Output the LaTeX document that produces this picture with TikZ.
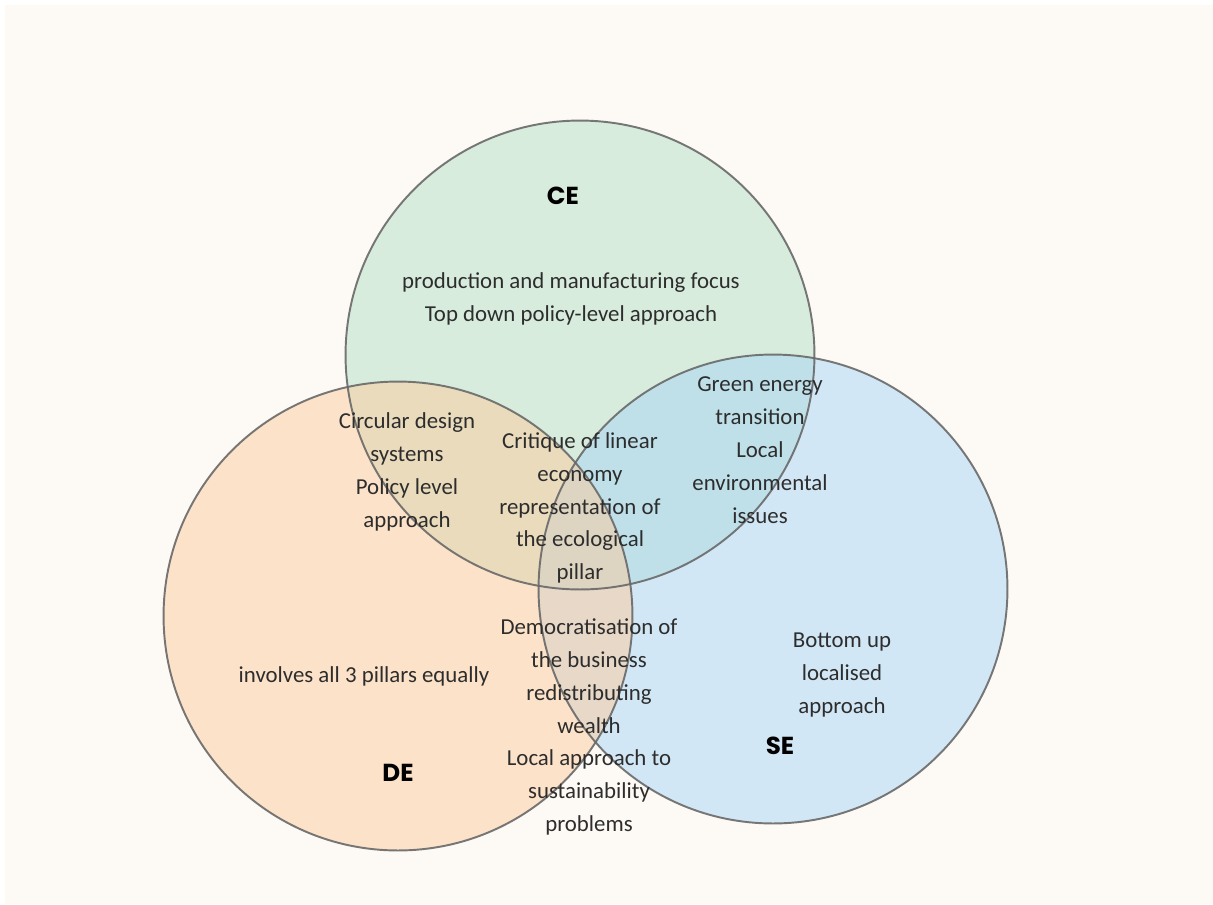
\documentclass[tikz,border=0pt]{standalone}
\usepackage{fontspec}
\setmainfont{Carlito}
\newfontfamily\labelfont{Poppins}

\definecolor{paper}{RGB}{253,250,245}
\definecolor{cefill}{RGB}{178,224,198}
\definecolor{sefill}{RGB}{168,214,246}
\definecolor{defill}{RGB}{252,203,156}
\definecolor{rimgray}{RGB}{105,105,105}
\definecolor{textgray}{RGB}{45,45,45}

\begin{document}
\begin{tikzpicture}[x=0.02cm, y=-0.02cm]
  \tikzstyle{venn} = [circle, minimum size=9.38cm, inner sep=0pt, outer sep=0pt,
    fill opacity=0.5]
  \tikzstyle{rim} = [draw=rimgray, line width=1.1pt, draw opacity=0.9]
  \tikzstyle{setname} = [font=\labelfont\bfseries\fontsize{14}{16}\selectfont, text=black]
  \tikzstyle{note} = [align=center, text=textgray,
    font=\fontsize{13}{18.7}\selectfont]

  % Background
  \fill[white] (0,0) rectangle (1213,904);
  \fill[paper] (5,5) rectangle (1213,904);
  \useasboundingbox (0,0) rectangle (1213,904);

  % Place circles
  \node [venn, fill=cefill] (ce) at (580,355) {};
  \node [venn, fill=sefill] (se) at (773,589) {};
  \node [venn, fill=defill] (de) at (398,616) {};
  \foreach \c in {ce,se,de}
    \draw [rim] (\c.center) circle [radius=4.69cm];

  % Place labels
  \node [setname] (cename) at (563,196) {CE};
  \node [setname] (dename) at (398,773) {DE};
  \node [setname] (sename) at (780,746) {SE};

  \node [note] (ceonly) at (571,299) {production and manufacturing focus\\
    Top down policy-level approach};
  \node [note] (cede) at (407,472) {Circular design\\ systems\\ Policy level\\ approach};
  \node [note] (middle) at (580,508) {Critique of linear\\ economy\\
    representation of\\ the ecological\\ pillar};
  \node [note] (cese) at (760,450) {Green energy\\ transition\\ Local\\
    environmental\\ issues};
  \node [note] (deonly) at (364,676) {involves all 3 pillars equally};
  \node [note] (dese) at (589,727) {Democratisation of\\ the business\\
    redistributing\\ wealth\\ Local approach to\\ sustainability\\ problems};
  \node [note] (seonly) at (842,675) {Bottom up\\ localised\\ approach};
\end{tikzpicture}
\end{document}
